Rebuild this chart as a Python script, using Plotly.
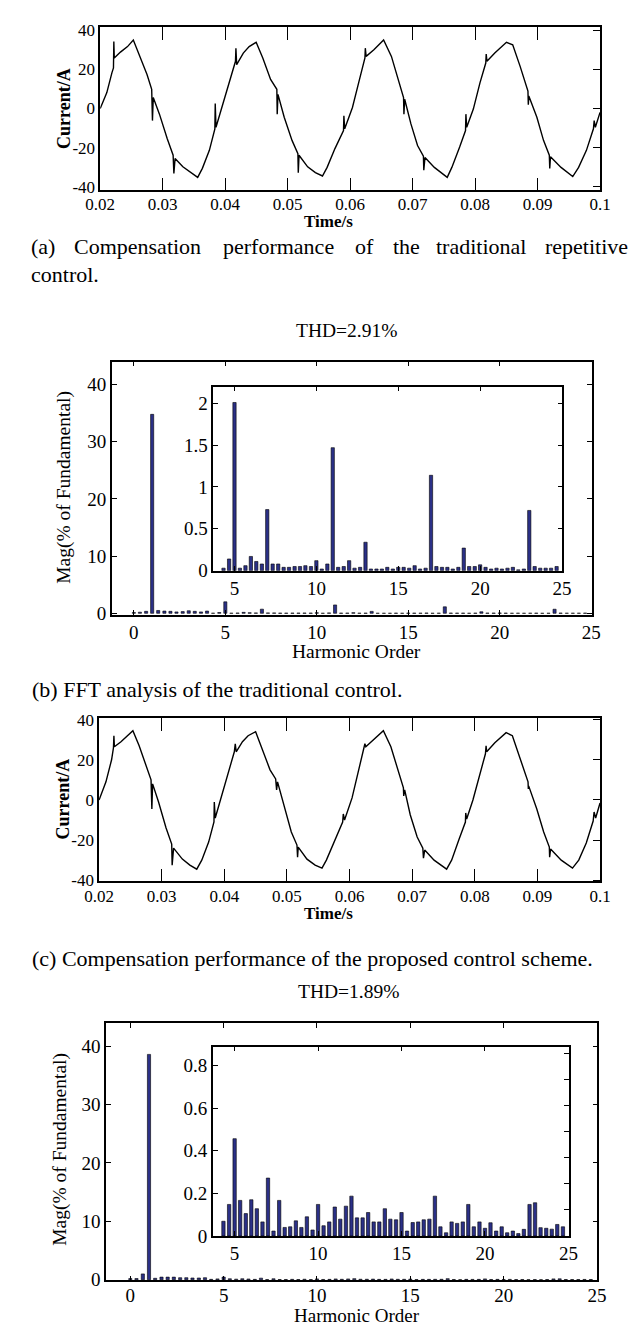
import plotly.graph_objects as go

W, H = 637, 1329
FONT = "Liberation Serif"
BAR_FILL = "#2B3087"

# ---- (a) current waveform, traditional repetitive control  (time [s], current [A])
WAVE_TRAD = [
    (0.0200, 0.0), (0.02106, 8.1), (0.02187, 18.2), (0.02212, 20.7), (0.02218, 34.2),
    (0.02225, 25.8), (0.02324, 28.8), (0.02437, 31.6), (0.0253, 35.0), (0.02636, 26.6),
    (0.02749, 17.3), (0.02824, 9.8), (0.02836, -6.2), (0.02849, 5.6), (0.02948, -2.9),
    (0.03073, -15.5), (0.03167, -23.9), (0.03179, -33.2), (0.03198, -25.6), (0.03323, -29.8),
    (0.03448, -32.8), (0.0356, -35.2), (0.03635, -30.6), (0.03747, -21.4), (0.03835, -10.4),
    (0.03841, 2.5), (0.03853, -9.6), (0.03947, 0.5), (0.04072, 14.0), (0.04165, 24.1),
    (0.04172, 30.8), (0.04184, 22.4), (0.0429, 28.3), (0.04384, 31.6), (0.04496, 33.8),
    (0.04602, 25.8), (0.04727, 14.8), (0.04827, 9.8), (0.04833, -2.9), (0.04845, 7.2),
    (0.04945, -4.5), (0.0507, -16.3), (0.05164, -23.1), (0.0517, -32.8), (0.05182, -23.9),
    (0.0532, -29.8), (0.05444, -32.8), (0.05557, -34.5), (0.05632, -30.1), (0.05757, -20.5),
    (0.05894, -11.3), (0.059, -3.7), (0.05913, -10.4), (0.06037, 0.5), (0.06143, 14.0),
    (0.06237, 25.8), (0.06243, 30.8), (0.06256, 26.6), (0.0638, 30.0), (0.06536, 35.0),
    (0.06661, 26.6), (0.06786, 12.3), (0.06855, 5.6), (0.06861, -2.9), (0.06873, 4.7),
    (0.06973, -7.9), (0.07079, -18.9), (0.07173, -24.4), (0.07179, -31.5), (0.07198, -25.1),
    (0.07348, -30.1), (0.07554, -35.2), (0.07628, -30.1), (0.07753, -19.7), (0.07847, -11.3),
    (0.07853, -2.9), (0.07866, -9.6), (0.07972, -0.3), (0.08078, 13.1), (0.08171, 23.2),
    (0.08178, 27.8), (0.0819, 24.1), (0.08315, 28.3), (0.08502, 33.8), (0.08602, 32.5),
    (0.08721, 21.5), (0.08846, 8.9), (0.08852, 1.9), (0.0886, 6.4), (0.08989, -4.5),
    (0.09095, -16.3), (0.09188, -23.9), (0.09195, -30.6), (0.09207, -24.7), (0.09376, -30.1),
    (0.09563, -34.8), (0.09657, -30.1), (0.09782, -21.4), (0.09894, -10.4), (0.09906, -6.2),
    (0.09925, -9.6), (0.1000, -2.0),
]

# ---- (c) current waveform, proposed control scheme
WAVE_PROP = [
    (0.0200, 0.0), (0.0211, 9.0), (0.0220, 20.0), (0.0223, 26.0), (0.02237, 32.0),
    (0.02245, 26.5), (0.0235, 29.0), (0.0245, 32.0), (0.0254, 34.5), (0.0264, 27.0),
    (0.0275, 17.0), (0.0283, 10.0), (0.02843, -4.5), (0.02855, 8.0), (0.0295, -1.0),
    (0.0307, -14.0), (0.0316, -22.0), (0.03167, -32.5), (0.0319, -24.0), (0.0333, -29.5),
    (0.0345, -32.5), (0.0356, -34.5), (0.0364, -30.0), (0.0375, -21.0), (0.03835, -11.0),
    (0.0384, -1.0), (0.03855, -9.0), (0.0395, 1.0), (0.0407, 14.0), (0.0416, 24.0),
    (0.04175, 28.0), (0.0419, 24.0), (0.0429, 29.0), (0.0438, 32.0), (0.0450, 34.0),
    (0.0460, 26.0), (0.0473, 15.0), (0.0482, 10.5), (0.04835, 5.0), (0.0485, 9.0),
    (0.0495, -3.0), (0.0507, -16.0), (0.0516, -22.5), (0.0517, -28.5), (0.0518, -23.5),
    (0.0532, -29.5), (0.0545, -32.5), (0.0556, -34.0), (0.0563, -30.0), (0.0576, -20.5),
    (0.0589, -11.0), (0.0590, -7.0), (0.0592, -10.0), (0.0604, 1.0), (0.0614, 14.0),
    (0.0623, 25.0), (0.06245, 28.0), (0.0626, 26.5), (0.0638, 30.0), (0.0654, 34.5),
    (0.0666, 26.5), (0.0679, 12.5), (0.0686, 6.0), (0.06865, 2.0), (0.0688, 5.0),
    (0.0697, -7.5), (0.0708, -18.5), (0.0717, -24.0), (0.0718, -29.0), (0.0720, -25.0),
    (0.0735, -30.0), (0.0755, -34.5), (0.0763, -30.0), (0.0775, -19.5), (0.0785, -11.0),
    (0.07855, -6.5), (0.0787, -9.5), (0.0797, 0.0), (0.0808, 13.0), (0.0817, 23.0),
    (0.0818, 27.0), (0.0819, 24.0), (0.0832, 28.5), (0.0850, 33.5), (0.0860, 32.0),
    (0.0872, 21.5), (0.0885, 9.0), (0.08855, 5.5), (0.0886, 7.0), (0.0899, -4.5),
    (0.0910, -16.0), (0.0919, -23.5), (0.09195, -28.5), (0.0921, -24.5), (0.0938, -30.0),
    (0.0956, -34.0), (0.0966, -30.0), (0.0978, -21.5), (0.0989, -10.5), (0.09905, -6.0),
    (0.0993, -9.0), (0.1000, -1.5),
]

# ---- harmonic spectra (bars every 1/3 order)
ORDER = [
    0, 0.33, 0.67, 1, 1.33, 1.67, 2, 2.33, 2.67, 3, 3.33, 3.67, 4,
    4.33, 4.67, 5, 5.33, 5.67, 6, 6.33, 6.67, 7, 7.33, 7.67, 8, 8.33, 8.67, 9,
    9.33, 9.67, 10, 10.33, 10.67, 11, 11.33, 11.67, 12, 12.33, 12.67, 13,
    13.33, 13.67, 14, 14.33, 14.67, 15, 15.33, 15.67, 16, 16.33, 16.67, 17,
    17.33, 17.67, 18, 18.33, 18.67, 19, 19.33, 19.67, 20, 20.33, 20.67, 21,
    21.33, 21.67, 22, 22.33, 22.67, 23, 23.33, 23.67, 24, 24.33, 24.67,
]
MAG_TRAD = [
    0.15, 0.2, 0.35, 34.8, 0.5, 0.4, 0.35, 0.25, 0.3, 0.45, 0.35, 0.25, 0.4,
    0.03, 0.14, 2.01, 0.03, 0.06, 0.17, 0.11, 0.08, 0.73, 0.08, 0.08, 0.04, 0.04, 0.05, 0.05,
    0.06, 0.05, 0.12, 0.02, 0.08, 1.47, 0.04, 0.05, 0.12, 0.03, 0.04, 0.34,
    0.02, 0.02, 0.02, 0.04, 0.02, 0.04, 0.04, 0.03, 0.06, 0.02, 0.03, 1.14,
    0.05, 0.04, 0.04, 0.02, 0.04, 0.27, 0.05, 0.05, 0.07, 0.04, 0.02, 0.03,
    0.02, 0.03, 0.04, 0.01, 0.02, 0.72, 0.05, 0.03, 0.03, 0.03, 0.05,
]
MAG_PROP = [
    0.2, 0.2, 1.0, 38.6, 0.25, 0.45, 0.45, 0.45, 0.35, 0.35, 0.3, 0.3, 0.35,
    0.069, 0.148, 0.457, 0.167, 0.105, 0.17, 0.128, 0.066, 0.272, 0.023, 0.167, 0.04, 0.043, 0.071, 0.04,
    0.09, 0.028, 0.148, 0.048, 0.066, 0.136, 0.079, 0.14, 0.187, 0.085, 0.085, 0.11,
    0.066, 0.066, 0.128, 0.079, 0.076, 0.11, 0.023, 0.063, 0.066, 0.076, 0.079, 0.187,
    0.043, 0.015, 0.066, 0.059, 0.066, 0.148, 0.043, 0.066, 0.036, 0.062, 0.023, 0.043,
    0.015, 0.023, 0.011, 0.031, 0.148, 0.156, 0.039, 0.036, 0.032, 0.054, 0.043,
]
INSET_START = 13  # insets show orders from 4.33 upward

TIME_TICKS = [0.02, 0.03, 0.04, 0.05, 0.06, 0.07, 0.08, 0.09, 0.1]
TIME_LABELS = ["0.02", "0.03", "0.04", "0.05", "0.06", "0.07", "0.08", "0.09", "0.1"]
CURRENT_TICKS = [-40, -20, 0, 20, 40]
CURRENT_LABELS = ["-40", "-20", "0", "20", "40"]
ORDER_TICKS = [0, 5, 10, 15, 20, 25]
MAG_TICKS = [0, 10, 20, 30, 40]
INSET_ORDER_TICKS = [5, 10, 15, 20, 25]
INSET_TRAD_TICKS = [0, 0.5, 1, 1.5, 2]
INSET_TRAD_LABELS = ["0", "0.5", "1", "1.5", "2"]
INSET_PROP_TICKS = [0, 0.2, 0.4, 0.6, 0.8]
INSET_PROP_RIGHT_TICKS = [0.122, 0.245, 0.367, 0.49, 0.612, 0.735, 0.857]


def px(x):
    return x / W


def py(y):
    return 1 - y / H


def dom_x(a, b):
    return [px(a), px(b)]


def dom_y(top, bottom):
    return [py(bottom), py(top)]


def bars(xs, ys, xa, ya, width):
    return go.Bar(x=xs, y=ys, xaxis=xa, yaxis=ya, width=width,
                  marker=dict(color=BAR_FILL, line=dict(color="black", width=0.6)),
                  hoverinfo="skip")


plotdata = [
    go.Scatter(x=[p[0] for p in WAVE_TRAD], y=[p[1] for p in WAVE_TRAD],
               xaxis="x", yaxis="y", mode="lines", line=dict(color="black", width=1.4)),
    bars(ORDER, MAG_TRAD, "x2", "y2", 0.17),
    bars(ORDER[INSET_START:], MAG_TRAD[INSET_START:], "x3", "y3", 0.2),
    go.Scatter(x=[p[0] for p in WAVE_PROP], y=[p[1] for p in WAVE_PROP],
               xaxis="x4", yaxis="y4", mode="lines", line=dict(color="black", width=1.4)),
    bars(ORDER, MAG_PROP, "x5", "y5", 0.17),
    bars(ORDER[INSET_START:], MAG_PROP[INSET_START:], "x6", "y6", 0.2),
    # empty traces so that the right-hand tick axes get drawn
    go.Scatter(x=[], y=[], xaxis="x", yaxis="y7"),
    go.Scatter(x=[], y=[], xaxis="x4", yaxis="y8"),
    go.Scatter(x=[], y=[], xaxis="x6", yaxis="y9"),
]

tick_font_t = dict(family=FONT, size=17, color="black")
tick_font_f = dict(family=FONT, size=19, color="black")

common = dict(showgrid=False, zeroline=False, showline=True, linecolor="black", linewidth=1.5,
              tickcolor="black", tickwidth=1.2, ticks="inside")

layout = dict(
    width=W, height=H, margin=dict(l=0, r=0, t=0, b=0),
    paper_bgcolor="white", plot_bgcolor="white", showlegend=False,
    font=dict(family=FONT, color="black"),
    # (a)
    xaxis=dict(common, domain=dom_x(80.5, 601.6), anchor="y", range=[0.02, 0.1],
               tickvals=TIME_TICKS, ticktext=TIME_LABELS, ticklen=13, mirror="ticks",
               tickfont=tick_font_t, ticklabelstandoff=-2),
    yaxis=dict(common, domain=dom_y(12, 177.7), anchor="x", range=[-41.8, 41.7],
               tickvals=CURRENT_TICKS, ticktext=CURRENT_LABELS, ticks="", mirror=True,
               tickfont=tick_font_t),
    yaxis7=dict(showgrid=False, zeroline=False, showline=False, overlaying="y", side="right",
                anchor="x", range=[-41.8, 41.7], tickvals=CURRENT_TICKS, ticks="inside",
                ticklen=7, tickwidth=1.2, tickcolor="black", showticklabels=False),
    # (b) main
    xaxis2=dict(common, domain=dom_x(92.7, 592.7), anchor="y2", range=[-1.2, 25.02],
                tickvals=ORDER_TICKS, ticklen=5, mirror="ticks", tickfont=tick_font_f),
    yaxis2=dict(common, domain=dom_y(351.5, 608), anchor="x2", range=[-0.25, 44],
                tickvals=MAG_TICKS, ticklen=5, mirror="ticks", tickfont=tick_font_f),
    # (b) inset
    xaxis3=dict(common, domain=dom_x(198.3, 562.3), anchor="y3", range=[3.7, 25.02],
                tickvals=INSET_ORDER_TICKS, ticklen=5, mirror="ticks", tickfont=tick_font_f),
    yaxis3=dict(common, domain=dom_y(376.7, 563.3), anchor="x3", range=[0, 2.2],
                tickvals=INSET_TRAD_TICKS, ticktext=INSET_TRAD_LABELS, ticklen=5,
                mirror="ticks", tickfont=tick_font_f),
    # (c)
    xaxis4=dict(common, domain=dom_x(79.3, 601.6), anchor="y4", range=[0.02, 0.1],
                tickvals=TIME_TICKS, ticktext=TIME_LABELS, ticklen=13, mirror="ticks",
                tickfont=tick_font_t, ticklabelstandoff=-2),
    yaxis4=dict(common, domain=dom_y(712.7, 878.3), anchor="x4", range=[-40.6, 40.8],
                tickvals=CURRENT_TICKS, ticktext=CURRENT_LABELS, ticks="", mirror=True,
                tickfont=tick_font_t),
    yaxis8=dict(showgrid=False, zeroline=False, showline=False, overlaying="y4", side="right",
                anchor="x4", range=[-40.6, 40.8], tickvals=CURRENT_TICKS, ticks="inside",
                ticklen=7, tickwidth=1.2, tickcolor="black", showticklabels=False),
    # (d) main
    xaxis5=dict(common, domain=dom_x(86.6, 598.8), anchor="y5", range=[-1.3, 25.02],
                tickvals=ORDER_TICKS, ticklen=5, mirror="ticks", tickfont=tick_font_f,
                ticklabelstandoff=-3),
    yaxis5=dict(common, domain=dom_y(1021.7, 1282.7), anchor="x5", range=[-0.1, 44],
                tickvals=MAG_TICKS, ticklen=5, mirror="ticks", tickfont=tick_font_f),
    # (d) inset
    xaxis6=dict(common, domain=dom_x(198, 569), anchor="y6", range=[3.7, 25.02],
                tickvals=INSET_ORDER_TICKS, ticklen=5, mirror="ticks", tickfont=tick_font_f),
    yaxis6=dict(common, domain=dom_y(1045.7, 1237.7), anchor="x6", range=[0, 0.89],
                tickvals=INSET_PROP_TICKS, ticklen=5, mirror=True, tickfont=tick_font_f),
    yaxis9=dict(showgrid=False, zeroline=False, showline=False, overlaying="y6", side="right",
                anchor="x6", range=[0, 0.89], tickvals=INSET_PROP_RIGHT_TICKS, ticks="inside",
                ticklen=5, tickwidth=1.2, tickcolor="black", showticklabels=False),
)

fig = go.Figure(data=plotdata, layout=layout)


def note(text, x, y, size, xanchor="center", angle=0):
    fig.add_annotation(text=text, x=px(x), y=py(y), xref="paper", yref="paper",
                       xanchor=xanchor, yanchor="middle", showarrow=False, textangle=angle,
                       font=dict(family=FONT, size=size, color="black"))


# axis titles
note("<b>Current/A</b>", 42, 95, 18, angle=-90)
note("<b>Time/s</b>", 318, 209, 17)
note("Mag(% of Fundamental)", 42, 479, 19.5, angle=-90)
note("Harmonic Order", 348, 645, 19.5)
note("<b>Current/A</b>", 42, 795, 18, angle=-90)
note("<b>Time/s</b>", 318, 911, 17)
note("Mag(% of Fundamental)", 39, 1150, 19.5, angle=-90)
note("Harmonic Order", 348, 1318, 19)

# THD titles
note("THD=2.91%", 337, 320, 19.5)
note("THD=1.89%", 339, 990, 19.5)

# captions (first line of (a) is justified in the source)
CAPTION_A_WORDS = ["(a)", "Compensation", "performance", "of", "the", "traditional", "repetitive"]
CAPTION_A_X = [6, 51, 206, 344, 384, 429, 542]
for word, xw in zip(CAPTION_A_WORDS, CAPTION_A_X):
    note(word, xw, 235, 22, xanchor="left")
note("control.", 6, 263, 22, xanchor="left")
note("(b) FFT analysis of the traditional control.", 7, 684, 22, xanchor="left")
note("(c) Compensation performance of the proposed control scheme.", 7, 956, 22, xanchor="left")

fig.write_html("out.html")
